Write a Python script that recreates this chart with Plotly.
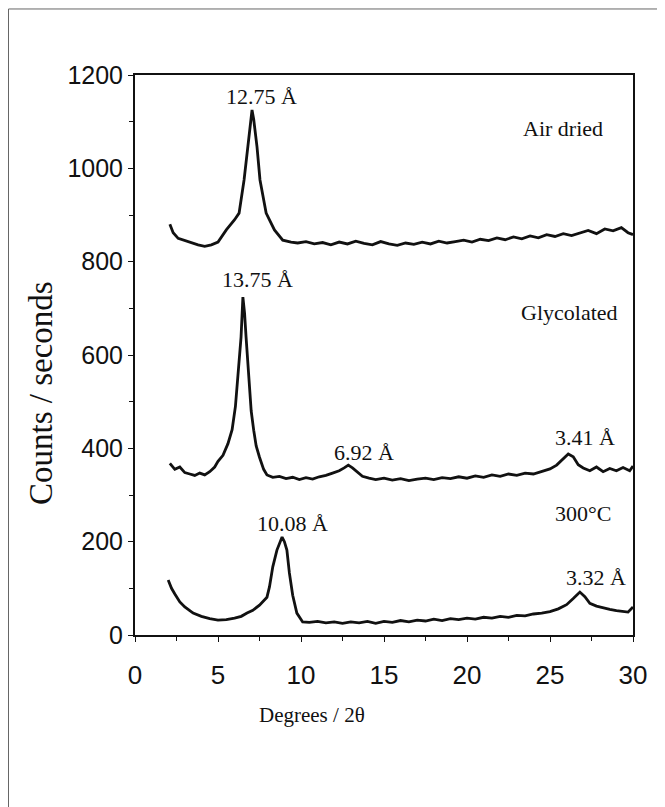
import plotly.graph_objects as go

# ---- data ----
air_x = [2.1, 2.3, 2.6, 3.0, 3.4, 3.8, 4.2, 4.6, 5.0, 5.5, 6.0, 6.27, 6.57, 6.8, 6.95, 7.05, 7.15,
         7.35, 7.53, 7.9, 8.4, 8.9, 9.4, 9.8, 10.3, 10.8, 11.3, 11.8, 12.3, 12.8, 13.3, 13.8, 14.3,
         14.8, 15.3, 15.8, 16.3, 16.8, 17.3, 17.8, 18.3, 18.8, 19.3, 19.8, 20.3, 20.8, 21.3, 21.8,
         22.3, 22.8, 23.3, 23.8, 24.3, 24.8, 25.3, 25.8, 26.3, 26.8, 27.3, 27.8, 28.3, 28.8, 29.3,
         29.7, 30.0]
air_y = [880, 862, 850, 845, 840, 836, 833, 836, 842, 868, 890, 904, 975, 1046, 1100, 1125, 1105,
         1046, 975, 904, 868, 846, 842, 840, 843, 838, 841, 836, 842, 838, 844, 839, 836,
         843, 838, 835, 840, 837, 842, 838, 844, 840, 843, 846, 842, 848, 845, 851,
         847, 853, 849, 855, 851, 858, 854, 860, 856, 862, 867, 860, 870, 866, 873,
         862, 858]

gly_x = [2.1, 2.4, 2.7, 3.0, 3.3, 3.6, 3.9, 4.2, 4.5, 4.8, 5.0, 5.3, 5.6, 5.85, 6.05, 6.15, 6.3,
         6.39, 6.5, 6.6, 6.69, 6.87, 7.0, 7.15, 7.3, 7.5, 7.75, 7.95, 8.3, 8.7, 9.1, 9.5, 9.9, 10.3,
         10.7, 11.1, 11.5, 11.9, 12.3, 12.6, 12.85, 13.1, 13.4, 13.7, 14.1, 14.5, 15.0, 15.5, 16.0,
         16.5, 17.0, 17.5, 18.0, 18.5, 19.0, 19.5, 20.0, 20.5, 21.0, 21.5, 22.0, 22.5, 23.0, 23.5,
         24.0, 24.5, 25.0, 25.4, 25.8, 26.1, 26.4, 26.7, 27.0, 27.4, 27.8, 28.2, 28.6, 29.0, 29.4,
         29.8, 30.0]
gly_y = [368, 355, 360, 348, 345, 342, 347, 343, 350, 360, 372, 385, 410, 440, 490, 531, 600,
         639, 724, 690, 639, 531, 480, 439, 405, 381, 355, 343, 338, 340, 335, 338, 333, 337,
         334, 339, 342, 347, 352, 358, 364, 358, 348, 340, 336, 333, 336, 332, 335,
         331, 334, 336, 333, 337, 335, 339, 336, 341, 338, 343, 340, 345, 342, 347,
         345, 350, 356, 364, 378, 388, 382, 365, 358, 352, 360, 350, 357, 352, 359,
         352, 362]

hot_x = [2.0, 2.2, 2.4, 2.7, 3.0, 3.5, 4.0, 4.5, 5.0, 5.5, 6.0, 6.4, 6.75, 7.1, 7.5, 7.8, 7.95,
         8.1, 8.3, 8.55, 8.86, 9.0, 9.15, 9.3, 9.5, 9.75, 10.1, 10.5, 11.0, 11.5, 12.0, 12.5, 13.0,
         13.5, 14.0, 14.5, 15.0, 15.5, 16.0, 16.5, 17.0, 17.5, 18.0, 18.5, 19.0, 19.5, 20.0, 20.5,
         21.0, 21.5, 22.0, 22.5, 23.0, 23.5, 24.0, 24.5, 25.0, 25.5, 26.0, 26.4, 26.8, 27.1, 27.4,
         27.8, 28.2, 28.6, 29.0, 29.4, 29.7, 30.0]
hot_y = [118, 100, 88, 71, 60, 47, 40, 35, 32, 33, 36, 40, 47, 53, 64, 75, 81,
         103, 146, 182, 210, 200, 182, 133, 85, 47, 28, 27, 29, 26, 28, 25, 28,
         26, 29, 25, 29, 27, 31, 28, 32, 30, 34, 31, 35, 33, 36, 34,
         38, 36, 40, 38, 42, 41, 45, 47, 50, 56, 65, 78, 92, 82, 68,
         62, 58, 55, 52, 50, 49, 60]

labels = ["12.75 Å", "Air dried", "13.75 Å", "Glycolated", "6.92 Å", "3.41 Å",
          "10.08 Å", "300°C", "3.32 Å"]
label_x = [7.6, 25.8, 7.35, 26.2, 13.8, 27.1, 9.5, 27.0, 27.8]
label_y = [1155, 1086, 761, 692, 392, 424, 240, 261, 124]

x_ticks = [0, 5, 10, 15, 20, 25, 30]
y_ticks = [0, 200, 400, 600, 800, 1000, 1200]

SERIF = "Liberation Serif, Times New Roman, serif"
SANS = "Liberation Sans, Arial, sans-serif"

fig = go.Figure()
for xs, ys, name in [(air_x, air_y, "Air dried"), (gly_x, gly_y, "Glycolated"), (hot_x, hot_y, "300°C")]:
    fig.add_trace(go.Scatter(x=xs, y=ys, mode="lines", name=name,
                             line=dict(color="#111111", width=2.8), showlegend=False))

for t, lx, ly in zip(labels, label_x, label_y):
    fig.add_annotation(x=lx, y=ly, text=t, showarrow=False, xanchor="center", yanchor="middle",
                       font=dict(family=SERIF, size=22, color="#111111"))

fig.add_annotation(xref="paper", yref="paper", x=0.355, y=-0.143, text="Degrees / 2θ",
                   xanchor="center", yanchor="middle",
                   showarrow=False, font=dict(family=SERIF, size=21, color="#111111"))
fig.add_annotation(xref="paper", yref="paper", x=-0.189, y=0.432, text="Counts / seconds",
                   xanchor="center", yanchor="middle",
                   textangle=-90, showarrow=False, font=dict(family=SERIF, size=33, color="#111111"))

# outer frame of the scanned figure
fig.add_shape(type="line", xref="paper", yref="paper", x0=-0.2540, x1=1.07, y0=1.1179, y1=1.1179,
              line=dict(color="#666666", width=1))
fig.add_shape(type="line", xref="paper", yref="paper", x0=-0.2540, x1=-0.2540, y0=1.1179, y1=-0.32,
              line=dict(color="#666666", width=1))

fig.update_xaxes(range=[0, 30], tickvals=x_ticks, ticks="outside", ticklen=5, tickwidth=1.2,
                 tickcolor="#111111", showline=True, linecolor="#111111", linewidth=2, mirror=True,
                 showgrid=False, zeroline=False, ticklabelstandoff=11,
                 tickfont=dict(family=SANS, size=26, color="#111111"),
                 minor=dict(dtick=2.5, tick0=0, ticks="outside", ticklen=4, tickcolor="#111111"))
fig.update_yaxes(range=[0, 1200], tickvals=y_ticks, ticks="outside", ticklen=5, tickwidth=1.2,
                 tickcolor="#111111", showline=True, linecolor="#111111", linewidth=2, mirror=True,
                 showgrid=False, zeroline=False,
                 tickfont=dict(family=SANS, size=25, color="#111111"),
                 minor=dict(dtick=100, tick0=0, ticks="outside", ticklen=4, tickcolor="#111111"))

# page body adds an 8px offset; margins compensate so the plot lands where the reference has it
fig.update_layout(width=657, height=799, margin=dict(l=127, r=32, t=67, b=172),
                  plot_bgcolor="white", paper_bgcolor="white")

fig.write_html("out.html")
